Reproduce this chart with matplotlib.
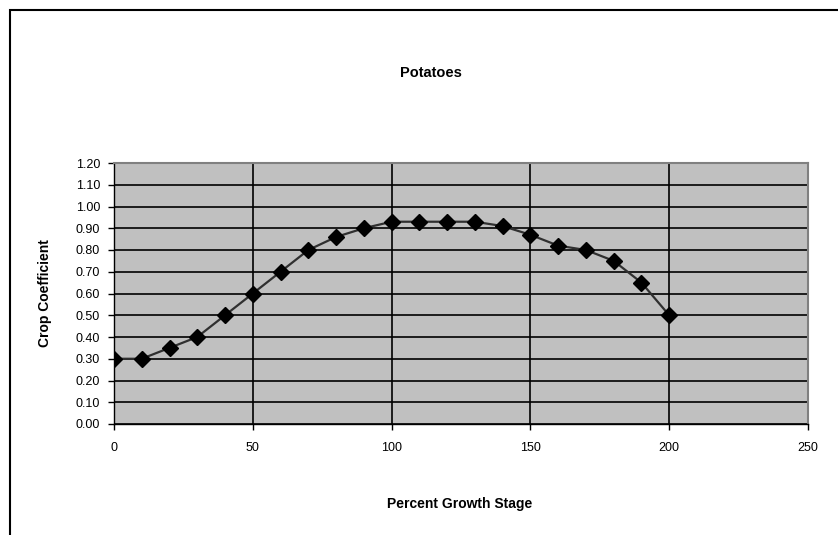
import matplotlib
matplotlib.use("Agg")
import matplotlib.pyplot as plt
from matplotlib.patches import Rectangle

# datos
etapa = [0, 10, 20, 30, 40, 50, 60, 70, 80, 90, 100,
         110, 120, 130, 140, 150, 160, 170, 180, 190, 200]
coef = [0.30, 0.30, 0.35, 0.40, 0.50, 0.60, 0.70, 0.80, 0.86, 0.90, 0.93,
        0.93, 0.93, 0.93, 0.91, 0.87, 0.82, 0.80, 0.75, 0.65, 0.50]
x_ticks = [0, 50, 100, 150, 200, 250]
y_ticks = [i / 10 for i in range(13)]

plt.rcParams['font.family'] = ['Liberation Sans', 'DejaVu Sans']

fig = plt.figure(figsize=(8.38, 5.35), dpi=100)
fig.patch.set_facecolor('white')

# marco negro del area del grafico (se sale por la derecha y abajo)
fig.patches.append(Rectangle((10 / 838, -0.1), 1.2, 1 - 10 / 535 + 0.1,
                             transform=fig.transFigure, fill=False,
                             edgecolor='black', linewidth=1.5, clip_on=False))

ax = fig.add_axes([114 / 838, 1 - 424 / 535, (808 - 114) / 838, (424 - 163) / 535])
ax.set_facecolor('#c0c0c0')

ax.plot(etapa, coef, color='#303030', linewidth=1.6, zorder=3,
        marker='D', markersize=8, markerfacecolor='black', markeredgecolor='black')

ax.set_xlim(0, 250)
ax.set_ylim(0, 1.2)
ax.set_xticks(x_ticks)
ax.set_yticks(y_ticks)
ax.set_yticklabels([f'{v:.2f}' for v in y_ticks])
ax.tick_params(axis='both', direction='out', length=4, width=1, color='black',
               labelsize=9, pad=6)
ax.tick_params(axis='x', pad=9)

ax.grid(True, color='black', linewidth=1.2, zorder=1)
ax.set_axisbelow(True)

for lado in ['top', 'right']:
    ax.spines[lado].set_color('#808080')
    ax.spines[lado].set_linewidth(1.5)
for lado in ['left', 'bottom']:
    ax.spines[lado].set_color('black')
    ax.spines[lado].set_linewidth(1)

fig.text(431 / 838, 1 - 73 / 535, 'Potatoes', ha='center', va='center',
         fontsize=10.5, fontweight='bold')
fig.text(460 / 838, 1 - 504 / 535, 'Percent Growth Stage', ha='center', va='center',
         fontsize=10, fontweight='bold')
fig.text(45 / 838, 1 - 293 / 535, 'Crop Coefficient', ha='center', va='center',
         rotation=90, fontsize=10, fontweight='bold')

plt.savefig('out.png', dpi=100)
